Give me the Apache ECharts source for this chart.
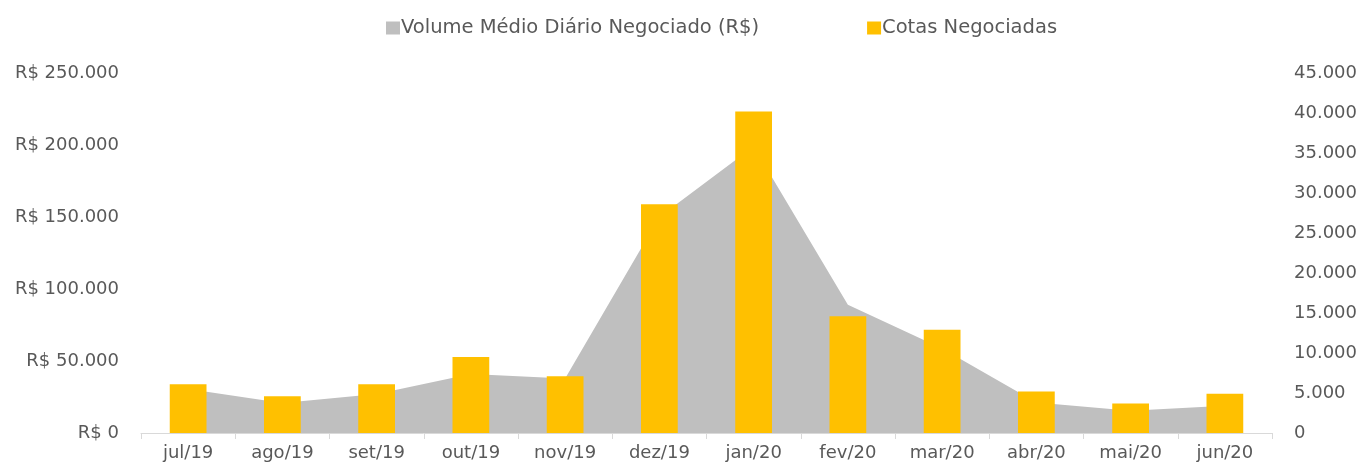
<!DOCTYPE html>
<html><head><meta charset="utf-8">
<script src="https://cdn.jsdelivr.net/npm/echarts@6/dist/echarts.min.js"></script>
<style>html,body{margin:0;padding:0;background:#fff}#c{width:1360px;height:476px}</style>
</head><body><div id="c"></div>
<script>
const categories = ['jul/19','ago/19','set/19','out/19','nov/19','dez/19','jan/20','fev/20','mar/20','abr/20','mai/20','jun/20'];
const volumeMedio = [30500, 20900, 27000, 41000, 37800, 150000, 199000, 89000, 58700, 21100, 15400, 19000];
const cotasNegociadas = [6100, 4600, 6100, 9500, 7100, 28600, 40200, 14600, 12900, 5200, 3700, 4900];
const seriesNames = ['Volume Médio Diário Negociado (R$)', 'Cotas Negociadas'];

const fmt = v => String(Math.round(v)).replace(/\B(?=(\d{3})+(?!\d))/g, '.');
const FONT = 'DejaVu Sans';
const TXT = '#595959';

const chart = echarts.init(document.getElementById('c'));
chart.setOption({
  animation: false,
  textStyle: { fontFamily: FONT },
  legend: {
    top: 13, left: 381, itemGap: 108, itemWidth: 14, itemHeight: 13, icon: 'rect',
    textStyle: { fontFamily: FONT, fontSize: 19.5, color: TXT, padding: [0,0,0,-4] },
    data: seriesNames
  },
  grid: { left: 141, right: 88, top: 73, bottom: 43, containLabel: false },
  xAxis: {
    type: 'category', data: categories, boundaryGap: true,
    axisLine: { show: true, lineStyle: { color: '#d9d9d9', width: 1 } },
    axisTick: { show: true, length: 6, lineStyle: { color: '#d9d9d9' } },
    axisLabel: { fontFamily: FONT, fontSize: 18, color: TXT, margin: 11 }
  },
  yAxis: [
    {
      type: 'value', min: 0, max: 250000, interval: 50000, position: 'left',
      axisLine: { show: false }, axisTick: { show: false }, splitLine: { show: false },
      axisLabel: { fontFamily: FONT, fontSize: 18, color: TXT, margin: 22, formatter: v => 'R$ ' + fmt(v) }
    },
    {
      type: 'value', min: 0, max: 45000, interval: 5000, position: 'right',
      axisLine: { show: false }, axisTick: { show: false }, splitLine: { show: false },
      axisLabel: { fontFamily: FONT, fontSize: 18, color: TXT, margin: 22, formatter: v => fmt(v) }
    }
  ],
  series: [
    {
      name: seriesNames[0], type: 'line', yAxisIndex: 0, data: volumeMedio,
      symbol: 'none', lineStyle: { width: 0, color: '#bfbfbf' },
      itemStyle: { color: '#bfbfbf' },
      areaStyle: { color: '#bfbfbf', opacity: 1 }, z: 1
    },
    {
      name: seriesNames[1], type: 'bar', yAxisIndex: 1, data: cotasNegociadas,
      barWidth: '39%', itemStyle: { color: '#ffc000' }, z: 2
    }
  ]
});
</script></body></html>
